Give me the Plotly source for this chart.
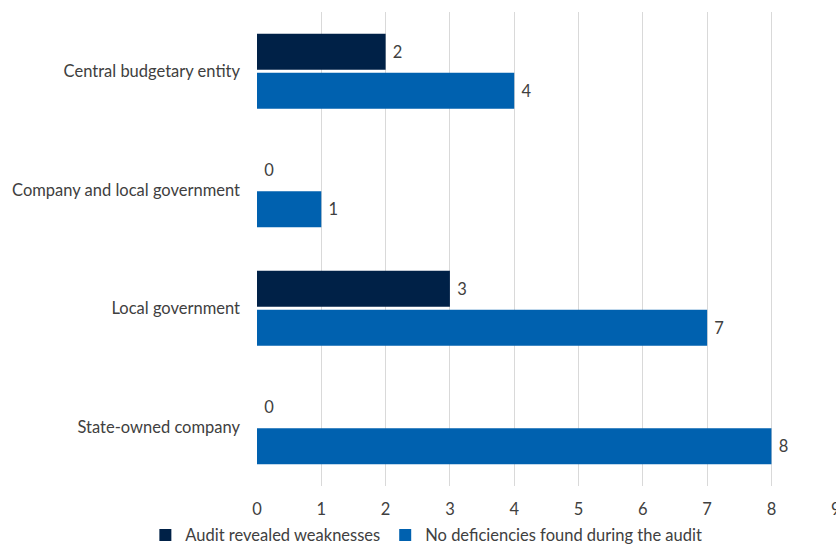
import plotly.graph_objects as go

categories = [
    "Central budgetary entity",
    "Company and local government",
    "Local government",
    "State-owned company",
]
weaknesses = [2, 0, 3, 0]
no_deficiencies = [4, 1, 7, 8]
x_ticks = [0, 1, 2, 3, 4, 5, 6, 7, 8, 9]

DARK = "#002147"
BLUE = "#0061AF"
TEXT = "#404040"
FONT = "Lato"
SIZE = 16.5

def labels(values):
    # a little padding between the bar end and its value
    return ["\u00a0" + str(v) for v in values]

fig = go.Figure()
fig.add_trace(go.Bar(
    y=categories, x=weaknesses, orientation="h",
    name="Audit revealed weaknesses",
    marker=dict(color=DARK, line=dict(width=0)),
    text=labels(weaknesses), textposition="outside",
    textfont=dict(size=SIZE, color=TEXT, family=FONT), cliponaxis=False,
))
fig.add_trace(go.Bar(
    y=categories, x=no_deficiencies, orientation="h",
    name="No deficiencies found during the audit",
    marker=dict(color=BLUE, line=dict(width=0)),
    text=labels(no_deficiencies), textposition="outside",
    textfont=dict(size=SIZE, color=TEXT, family=FONT), cliponaxis=False,
))

fig.update_layout(
    width=836, height=545,
    margin=dict(l=257, r=0, t=12, b=59),
    paper_bgcolor="white", plot_bgcolor="white",
    barmode="group", bargap=0.34, bargroupgap=0.08,
    font=dict(family=FONT, size=SIZE, color=TEXT),
    showlegend=True,
    legend=dict(
        orientation="h", xref="container", yref="container",
        x=0.51, xanchor="center", y=0.018, yanchor="middle",
        font=dict(size=SIZE, color=TEXT, family=FONT),
        itemwidth=30, traceorder="normal",
    ),
    xaxis=dict(
        range=[0, 9.004], tickvals=x_ticks, showgrid=True,
        gridcolor="#D9D9D9", gridwidth=1, zeroline=False,
        showline=False, ticks="", ticklabelstandoff=11,
        ticklabeloverflow="allow", automargin=False,
        tickfont=dict(size=SIZE, color=TEXT, family=FONT),
    ),
    yaxis=dict(
        autorange="reversed", showgrid=False, zeroline=False,
        showline=False, ticks="", ticklabelstandoff=16,
        automargin=False,
        tickfont=dict(size=SIZE, color=TEXT, family=FONT),
    ),
)

fig.write_html("out.html")
